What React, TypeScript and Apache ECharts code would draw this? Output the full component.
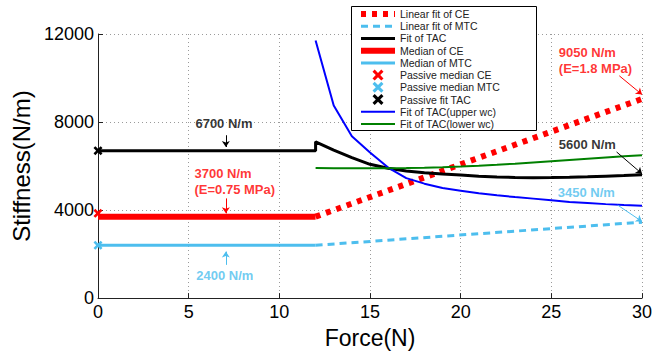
import React, { useEffect, useRef } from "react";
import * as echarts from "echarts";

// ---- data ----
const fitX = [12, 13, 14, 15, 16, 17, 18, 19, 20, 21, 22, 23, 24, 25, 26, 27, 28, 29, 30];
const tacFitY = [7100, 6720, 6380, 6080, 5900, 5780, 5700, 5640, 5590, 5540, 5500, 5480, 5470, 5475, 5490, 5510, 5540, 5570, 5610];
const tacUpperY = [11700, 8750, 7350, 6620, 5930, 5450, 5200, 5000, 4880, 4760, 4670, 4590, 4520, 4450, 4370, 4320, 4270, 4230, 4200];
const tacLowerY = [5910, 5900, 5895, 5895, 5900, 5910, 5925, 5945, 5975, 6015, 6060, 6110, 6165, 6220, 6275, 6330, 6385, 6440, 6495];
const tacActive = 6700;
const ceMedian = 3700;
const mtcMedian = 2400;
const ceFitEnd = 9050;
const mtcFitEnd = 3450;
const passiveCE = 3850;
const passiveMTC = 2400;
const passiveTAC = 6700;

const legendNames = [
  "Linear fit of CE",
  "Linear fit of MTC",
  "Fit of TAC",
  "Median of CE",
  "Median of MTC",
  "Passive median CE",
  "Passive median MTC",
  "Passive fit TAC",
  "Fit of TAC(upper wc)",
  "Fit of TAC(lower wc)",
];

const annotTexts = ["6700 N/m", "3700 N/m\n(E=0.75 MPa)", "2400 N/m", "9050 N/m\n(E=1.8 MPa)", "5600 N/m", "3450 N/m"];
const annotX = [5.4, 5.35, 5.45, 25.44, 25.44, 25.38];
const annotY = [7925, 5260, 1000, 10790, 6940, 4755];
const arrowFrom = [[7.05, 7400], [7.05, 4530], [7.05, 1510], [28.75, 10100], [28.6, 6640], [28.66, 4225]];
const arrowTo = [[7.05, 6865], [7.05, 3850], [7.05, 2115], [30, 9250], [30, 5650], [30, 3480]];

const RED = "#ff0000";
const SKY = "#4dbeee";
const BLACK = "#000000";
const BLUE = "#0000ff";
const GREEN = "#008000";
const annotColors = [BLACK, RED, SKY, RED, BLACK, SKY];

const FONT = "Liberation Sans, Arial, Helvetica, sans-serif";
const CROSS = "path://M0,2L2,0L5,3L8,0L10,2L7,5L10,8L8,10L5,7L2,10L0,8L3,5Z";

const zip = (xs: number[], ys: number[]) => xs.map((x, i) => [x, ys[i]]);

export default function App() {
  const ref = useRef<HTMLDivElement>(null);
  useEffect(() => {
    if (!ref.current) return;
    const chart = echarts.init(ref.current, undefined, { renderer: "svg" });
    const lineItem = (name: string, color: string, width: number, type: any) => ({
      name,
      itemStyle: { opacity: 0, color: "rgba(0,0,0,0)", borderWidth: 0 },
      lineStyle: { color, width, type, opacity: 1, cap: "butt" },
    });
    const option: any = {
      animation: false,
      grid: { left: 98, right: 13, top: 34, bottom: 54 },
      graphic: [
        {
          type: "rect",
          left: 351,
          top: 6,
          z: 9,
          shape: { width: 185, height: 124 },
          style: { fill: "#fff", stroke: "#000", lineWidth: 1 },
        },
      ],
      legend: {
        orient: "vertical",
        left: 351,
        top: 6,
        z: 10,
        padding: [2, 5, 0, 7],
        itemWidth: 34,
        itemHeight: 11,
        itemGap: 0.22,
        borderWidth: 0,
        textStyle: { fontSize: 10.5, fontFamily: FONT, color: "#222", lineHeight: 12 },
        data: [
          lineItem(legendNames[0], RED, 6, [5, 6]),
          lineItem(legendNames[1], SKY, 3, [7, 5]),
          lineItem(legendNames[2], BLACK, 3, "solid"),
          lineItem(legendNames[3], RED, 6, "solid"),
          lineItem(legendNames[4], SKY, 3, "solid"),
          { name: legendNames[5], icon: CROSS },
          { name: legendNames[6], icon: CROSS },
          { name: legendNames[7], icon: CROSS },
          lineItem(legendNames[8], BLUE, 2, "solid"),
          lineItem(legendNames[9], GREEN, 2, "solid"),
        ],
      },
      xAxis: {
        type: "value",
        min: 0,
        max: 30,
        interval: 5,
        name: "Force(N)",
        nameLocation: "middle",
        nameGap: 13,
        nameTextStyle: { fontSize: 23, fontFamily: FONT, color: "#000" },
        axisLine: { show: true, onZero: false, lineStyle: { color: "#222", width: 1 } },
        axisTick: { show: true, inside: true, length: 5, lineStyle: { color: "#222" } },
        axisLabel: { fontSize: 18, fontFamily: FONT, color: "#000", margin: 5 },
        splitLine: { show: true, lineStyle: { color: "#9a9a9a", width: 1, type: [1, 3] } },
      },
      yAxis: {
        type: "value",
        min: 0,
        max: 12000,
        interval: 4000,
        name: "Stiffness(N/m)",
        nameLocation: "middle",
        nameGap: 58,
        nameTextStyle: { fontSize: 24, fontFamily: FONT, color: "#000" },
        axisLine: { show: true, lineStyle: { color: "#222", width: 1 } },
        axisTick: { show: true, inside: true, length: 5, lineStyle: { color: "#222" } },
        axisLabel: { fontSize: 18, fontFamily: FONT, color: "#000", margin: 4, formatter: (v: number) => String(v) },
        splitLine: { show: true, lineStyle: { color: "#9a9a9a", width: 1, type: [1, 3] } },
      },
      series: [
        {
          name: legendNames[0],
          type: "line",
          symbol: "none",
          data: [[12, ceMedian], [30, ceFitEnd]],
          lineStyle: { color: RED, width: 6, type: [5, 6], cap: "butt" },
          itemStyle: { color: RED },
          z: 3,
        },
        {
          name: legendNames[1],
          type: "line",
          symbol: "none",
          data: [[12, mtcMedian], [30, mtcFitEnd]],
          lineStyle: { color: SKY, width: 3, type: [7, 5], cap: "butt" },
          itemStyle: { color: SKY },
          z: 3,
        },
        {
          name: legendNames[2],
          type: "line",
          symbol: "none",
          data: [[0, tacActive], [12, tacActive], ...zip(fitX, tacFitY)],
          lineStyle: { color: BLACK, width: 3 },
          itemStyle: { color: BLACK },
          z: 3,
        },
        {
          name: legendNames[3],
          type: "line",
          symbol: "none",
          data: [[0, ceMedian], [12, ceMedian]],
          lineStyle: { color: RED, width: 6 },
          itemStyle: { color: RED },
          z: 3,
        },
        {
          name: legendNames[4],
          type: "line",
          symbol: "none",
          data: [[0, mtcMedian], [12, mtcMedian]],
          lineStyle: { color: SKY, width: 3 },
          itemStyle: { color: SKY },
          z: 3,
        },
        {
          name: legendNames[5],
          type: "scatter",
          symbol: CROSS,
          symbolSize: 9,
          clip: false,
          data: [[0, passiveCE]],
          itemStyle: { color: RED, opacity: 1 },
          z: 5,
        },
        {
          name: legendNames[6],
          type: "scatter",
          symbol: CROSS,
          symbolSize: 9,
          clip: false,
          data: [[0, passiveMTC]],
          itemStyle: { color: SKY, opacity: 1 },
          z: 5,
        },
        {
          name: legendNames[7],
          type: "scatter",
          symbol: CROSS,
          symbolSize: 9,
          clip: false,
          data: [[0, passiveTAC]],
          itemStyle: { color: BLACK, opacity: 1 },
          z: 5,
        },
        {
          name: legendNames[8],
          type: "line",
          symbol: "none",
          data: zip(fitX, tacUpperY),
          lineStyle: { color: BLUE, width: 2 },
          itemStyle: { color: BLUE },
          z: 3,
        },
        {
          name: legendNames[9],
          type: "line",
          symbol: "none",
          data: zip(fitX, tacLowerY),
          lineStyle: { color: GREEN, width: 2 },
          itemStyle: { color: GREEN },
          z: 3,
        },
        {
          name: "arrows",
          type: "lines",
          coordinateSystem: "cartesian2d",
          symbol: ["none", "arrow"],
          symbolSize: 6,
          z: 6,
          data: arrowFrom.map((f, i) => ({
            coords: [f, arrowTo[i]],
            lineStyle: { color: annotColors[i], width: 1, opacity: 1, curveness: 0 },
          })),
        },
        {
          name: "annotations",
          type: "scatter",
          symbolSize: 1,
          clip: false,
          z: 7,
          itemStyle: { color: "rgba(0,0,0,0)" },
          label: {
            show: true,
            position: [0, 0],
            align: "left",
            verticalAlign: "middle",
            formatter: "{b}",
            fontSize: 13,
            fontWeight: "bold",
            lineHeight: 16,
            fontFamily: FONT,
          },
          data: annotTexts.map((t, i) => ({
            name: t,
            value: [annotX[i], annotY[i]],
            label: { color: annotColors[i] },
          })),
        },
      ],
    };
    chart.setOption(option);
    return () => chart.dispose();
  }, []);
  return <div ref={ref} style={{ width: 655, height: 354, position: "absolute", left: 0, top: 0 }} />;
}
